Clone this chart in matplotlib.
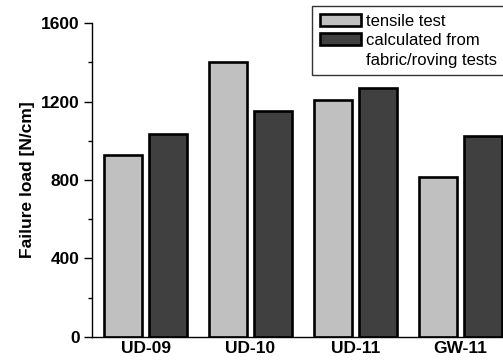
import numpy as np
import matplotlib
matplotlib.use('Agg')
from matplotlib import pyplot as plt
from matplotlib.patches import Patch
from matplotlib.ticker import MultipleLocator

# values
samples = ['UD-09', 'UD-10', 'UD-11', 'GW-11']
tensile = [927, 1401, 1209, 815]
calculated = [1034, 1153, 1269, 1026]

plt.rcParams['font.family'] = ['Liberation Sans', 'DejaVu Sans']

fig = plt.figure(figsize=(5.03, 3.60), dpi=100)
ax = fig.add_axes([0.183, 0.064, 0.817, 0.872])

x = np.arange(len(samples))
off = 0.215
w = 0.36
ax.bar(x - off, tensile, w, color='#c0c0c0', edgecolor='black', linewidth=1.9, zorder=2)
ax.bar(x + off, calculated, w, color='#404040', edgecolor='black', linewidth=1.9, zorder=2)

ax.set_xlim(-0.51, 3.405)
ax.set_ylim(0, 1600)
ax.set_xticks(x)
ax.set_xticklabels(samples, fontsize=12.5, fontweight='bold')
ax.tick_params(axis='x', length=0, pad=3)

ax.yaxis.set_major_locator(MultipleLocator(400))
ax.yaxis.set_minor_locator(MultipleLocator(200))
ax.tick_params(axis='y', which='major', direction='out', length=6, width=1, pad=3)
ax.tick_params(axis='y', which='minor', direction='out', length=3, width=1)
for lab in ax.get_yticklabels():
    lab.set_fontsize(12.5)
    lab.set_fontweight('bold')

ax.set_ylabel('Failure load [N/cm]', fontsize=12.5, fontweight='bold', labelpad=4)

ax.spines['top'].set_visible(False)
ax.spines['right'].set_visible(False)
ax.spines['left'].set_linewidth(1)
ax.spines['bottom'].set_linewidth(1)

# third entry carries the second line of the label, so the dark patch stays on the first line
handles = [Patch(facecolor='#c0c0c0', edgecolor='black', linewidth=1.9),
           Patch(facecolor='#404040', edgecolor='black', linewidth=1.9),
           Patch(facecolor='none', edgecolor='none')]
labels = ['tensile test', 'calculated from', 'fabric/roving tests']
leg = fig.legend(handles, labels, loc='upper left', bbox_to_anchor=(312 / 503, 1 - 6 / 360),
                 fontsize=12, frameon=True, fancybox=False, edgecolor='black',
                 handlelength=2.5, handleheight=0.7, handletextpad=0.3,
                 labelspacing=0.27, borderpad=0.45, borderaxespad=0)
leg.get_frame().set_linewidth(1)

fig.savefig('out.png', dpi=100)
